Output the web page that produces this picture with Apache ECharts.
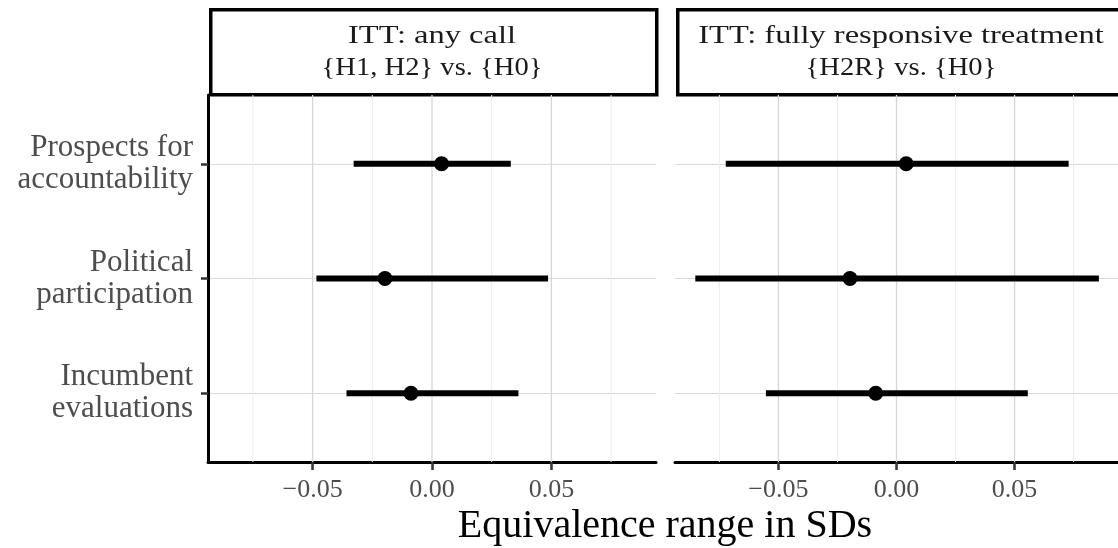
<!DOCTYPE html>
<html>
<head>
<meta charset="utf-8">
<script src="https://cdn.jsdelivr.net/npm/echarts@6/dist/echarts.min.js"></script>
<style>
  html, body { margin: 0; padding: 0; background: #fff; }
  #myChart { width: 1118px; height: 548px; }
</style>
</head>
<body>
<div id="myChart"></div>
<script>
// outcomes, bottom to top (y = 1, 2, 3)
var outcomes = ['Incumbent\nevaluations', 'Political\nparticipation', 'Prospects for\naccountability'];
var outcomePos = [1, 2, 3];
var panelTitles = [
    ['ITT: any call', '{H1, H2} vs. {H0}'],
    ['ITT: fully responsive treatment', '{H2R} vs. {H0}']
];

// panel 1: any call
var anyEst = [-0.0088, -0.0197, 0.0040];
var anyLow = [-0.0358, -0.0484, -0.0328];
var anyHigh = [0.0362, 0.0486, 0.0330];

// panel 2: fully responsive treatment
var fullEst = [-0.0088, -0.0197, 0.0041];
var fullLow = [-0.0553, -0.0852, -0.0723];
var fullHigh = [0.0556, 0.0857, 0.0729];

var xTicks = [-0.05, 0, 0.05];
var xMinor = [-0.075, -0.025, 0.025, 0.075];

var FONT = 'Liberation Serif';
var myChart = echarts.init(document.getElementById('myChart'));

function fmtTick(v) {
    if (Math.abs(v) < 1e-9) return '0.00';
    return (v < 0 ? '\u22120' : '0') + '.' + Math.round(Math.abs(v) * 100).toString().padStart(2, '0');
}

function makeX(idx) {
    return {
        type: 'value',
        gridIndex: idx,
        min: -0.0938,
        max: 0.0938,
        axisLine: { show: true, onZero: false, lineStyle: { color: '#000', width: 3 } },
        axisTick: { show: true, length: 8, customValues: xTicks, lineStyle: { color: '#333', width: 2.5 } },
        axisLabel: {
            customValues: xTicks,
            formatter: fmtTick,
            color: '#4d4d4d',
            fontFamily: FONT,
            fontSize: 26,
            margin: 15
        },
        splitLine: { show: false }
    };
}

function makeY(idx, showAxis) {
    return {
        type: 'value',
        gridIndex: idx,
        min: 0.4,
        max: 3.6,
        axisLine: { show: showAxis, onZero: false, lineStyle: { color: '#000', width: 3 } },
        axisTick: { show: showAxis, length: 7, customValues: outcomePos, lineStyle: { color: '#333', width: 2.5 } },
        axisLabel: {
            show: showAxis,
            customValues: outcomePos,
            formatter: function (v) { return outcomes[Math.round(v) - 1]; },
            color: '#4d4d4d',
            fontFamily: FONT,
            fontSize: 31,
            lineHeight: 32,
            align: 'right',
            margin: 15
        },
        splitLine: { show: true, lineStyle: { color: '#d9d9d9', width: 1.2 } }
    };
}

// vertical gridlines drawn under the data
function gridSeries(idx, values, color, width) {
    return {
        type: 'custom',
        xAxisIndex: idx,
        yAxisIndex: idx,
        z: 1,
        silent: true,
        data: values.map(function (v) { return [v, 2]; }),
        encode: { x: 0, y: 1 },
        renderItem: function (params, api) {
            var cs = params.coordSys;
            var x = api.coord([api.value(0), api.value(1)])[0];
            return {
                type: 'line',
                shape: { x1: x, y1: cs.y, x2: x, y2: cs.y + cs.height },
                style: { stroke: color, lineWidth: width }
            };
        }
    };
}

function errSeries(idx, low, high) {
    return {
        type: 'custom',
        xAxisIndex: idx,
        yAxisIndex: idx,
        z: 3,
        data: outcomePos.map(function (p, i) { return [p, low[i], high[i]]; }),
        encode: { x: [1, 2], y: 0 },
        renderItem: function (params, api) {
            var y = api.value(0);
            var a = api.coord([api.value(1), y]);
            var b = api.coord([api.value(2), y]);
            return {
                type: 'line',
                shape: { x1: a[0], y1: a[1], x2: b[0], y2: b[1] },
                style: { stroke: '#000', lineWidth: 6 }
            };
        }
    };
}

function pointSeries(idx, est) {
    return {
        type: 'scatter',
        xAxisIndex: idx,
        yAxisIndex: idx,
        z: 4,
        symbolSize: 15,
        itemStyle: { color: '#000', opacity: 1 },
        data: outcomePos.map(function (p, i) { return [est[i], p]; })
    };
}

function strip(idx, left, width) {
    var cx = left + width / 2;
    return [
        {
            type: 'rect',
            left: left,
            top: 8,
            shape: { width: width, height: 85 },
            style: { fill: '#fff', stroke: '#000', lineWidth: 3.5 }
        },
        {
            type: 'text',
            x: cx,
            y: 36,
            scaleX: 1.25,
            style: {
                text: panelTitles[idx][0],
                fill: '#1a1a1a',
                font: '26px "' + FONT + '"',
                align: 'center',
                verticalAlign: 'middle'
            }
        },
        {
            type: 'text',
            x: cx,
            y: 68,
            scaleX: 1.1,
            style: {
                text: panelTitles[idx][1],
                fill: '#1a1a1a',
                font: '26px "' + FONT + '"',
                align: 'center',
                verticalAlign: 'middle'
            }
        }
    ];
}

var option = {
    animation: false,
    backgroundColor: '#fff',
    grid: [
        { left: 208, top: 95, width: 448, height: 367 },
        { left: 675, top: 95, width: 448, height: 367 }
    ],
    xAxis: [makeX(0), makeX(1)],
    yAxis: [makeY(0, true), makeY(1, false)],
    series: [
        gridSeries(0, xMinor, '#ececec', 1), gridSeries(1, xMinor, '#ececec', 1),
        gridSeries(0, xTicks, '#d6d6d6', 1.3), gridSeries(1, xTicks, '#d6d6d6', 1.3),
        errSeries(0, anyLow, anyHigh), errSeries(1, fullLow, fullHigh),
        pointSeries(0, anyEst), pointSeries(1, fullEst)
    ],
    graphic: [].concat(
        strip(0, 209, 446),
        strip(1, 676, 450),
        [{
            type: 'text',
            x: 665,
            y: 526,
            style: {
                text: 'Equivalence range in SDs',
                fill: '#000',
                font: '40px "' + FONT + '"',
                align: 'center',
                verticalAlign: 'middle'
            }
        }]
    )
};
myChart.setOption(option);
</script>
</body>
</html>
